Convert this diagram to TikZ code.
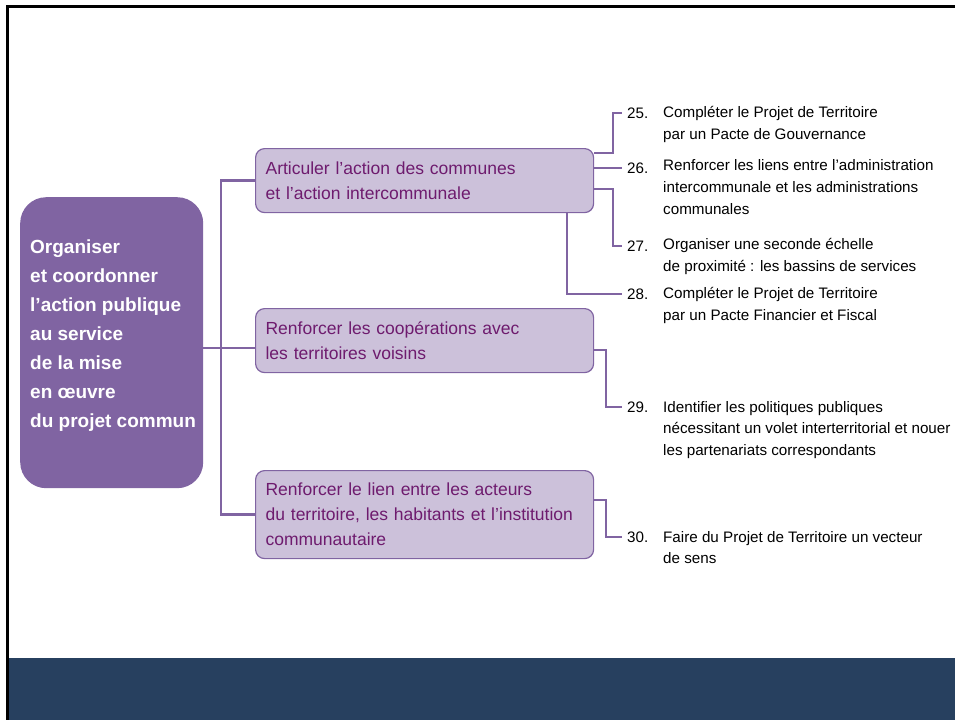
\documentclass[tikz,border=0pt]{standalone}
\usepackage{fontspec}
\setmainfont{Liberation Sans}
\usepackage{tikz}
\usepackage{xcolor}

\definecolor{mainpurple}{HTML}{8064A2}
\definecolor{lightpurple}{HTML}{CCC1DA}
\definecolor{axistext}{HTML}{6E1B6E}
\definecolor{bandblue}{HTML}{27405F}

\begin{document}
\begin{tikzpicture}[x=1pt,y=-1pt,
	link/.style={mainpurple,line width=2.4pt},
	axisbox/.style={draw=mainpurple,line width=1.2pt,fill=lightpurple,rounded corners=9pt,
		text width=318pt,inner xsep=10pt,inner ysep=0pt,align=left,text=axistext,
		font=\fontsize{17.5}{25}\selectfont,anchor=north west},
	num/.style={anchor=west,inner xsep=5pt,inner ysep=0pt,font=\fontsize{15.2}{21.7}\selectfont},
	item/.style={anchor=north west,inner sep=0pt,align=left,font=\fontsize{15.2}{21.7}\selectfont}]

	\useasboundingbox (0,0) rectangle (955,720);
	\fill[bandblue] (8,658) rectangle (955,720); % Bottom band
	\draw[line width=3pt] (955,6.5) -- (7.5,6.5) -- (7.5,720); % Frame

	% Main goal
	\node[fill=mainpurple,rounded corners=26pt,minimum width=183pt,minimum height=291pt,
		anchor=north west] (goal) at (20,197) {};
	\node[anchor=west,inner sep=0pt,align=left,text=white,font=\bfseries\fontsize{19}{29}\selectfont]
		(goaltext) at (30,336)
		{Organiser\\et coordonner\\l’action publique\\au service\\de la mise\\en œuvre\\du projet commun};

	% Axes
	\node[axisbox,minimum height=64pt] (a1) at (255,148) {Articuler l’action des communes\\et l’action intercommunale};
	\node[axisbox,minimum height=64pt] (a2) at (255,308) {Renforcer les coopérations avec\\les territoires voisins};
	\node[axisbox,minimum height=88pt] (a3) at (255,470) {Renforcer le lien entre les acteurs\\du territoire, les habitants et l’institution\\communautaire};

	\coordinate (fork) at (221,348);
	\draw[link] (goal.east |- fork) -- (fork -| a2.west);
	\draw[link] (a1.west) -- (a1.west -| fork) -- (a3.west -| fork) -- (a3.west);

	% Actions
	\node[num] (n25) at (622,113) {25.};
	\node[num] (n26) at (622,168) {26.};
	\node[num] (n27) at (622,246) {27.};
	\node[num] (n28) at (622,294) {28.};
	\node[num] (n29) at (622,407) {29.};
	\node[num] (n30) at (622,537) {30.};

	\node[item] (t25) at (663,106.5) {Compléter le Projet de Territoire\\par un Pacte de Gouvernance};
	\node[item] (t26) at (663,159.5) {Renforcer les liens entre l’administration\\intercommunale et les administrations\\communales};
	\node[item] (t27) at (663,238) {Organiser une seconde échelle\\de proximité : les bassins de services};
	\node[item] (t28) at (663,287.5) {Compléter le Projet de Territoire\\par un Pacte Financier et Fiscal};
	\node[item] (t29) at (663,401) {Identifier les politiques publiques\\nécessitant un volet interterritorial et nouer\\les partenariats correspondants};
	\node[item] (t30) at (663,531) {Faire du Projet de Territoire un vecteur\\de sens};

	\draw[link] ([yshift=-5pt]a1.north east) -- ++(19,0) |- (n25.west);
	\draw[link] (a1.east |- n26.west) -- (n26.west);
	\draw[link] ([yshift=-41pt]a1.north east) -- ++(19,0) |- (n27.west);
	\draw[link] ([xshift=-27pt]a1.south east) |- (n28.west);
	\draw[link] ([yshift=-42pt]a2.north east) -- ++(12,0) |- (n29.west);
	\draw[link] ([yshift=-30pt]a3.north east) -- ++(12,0) |- (n30.west);
\end{tikzpicture}
\end{document}
